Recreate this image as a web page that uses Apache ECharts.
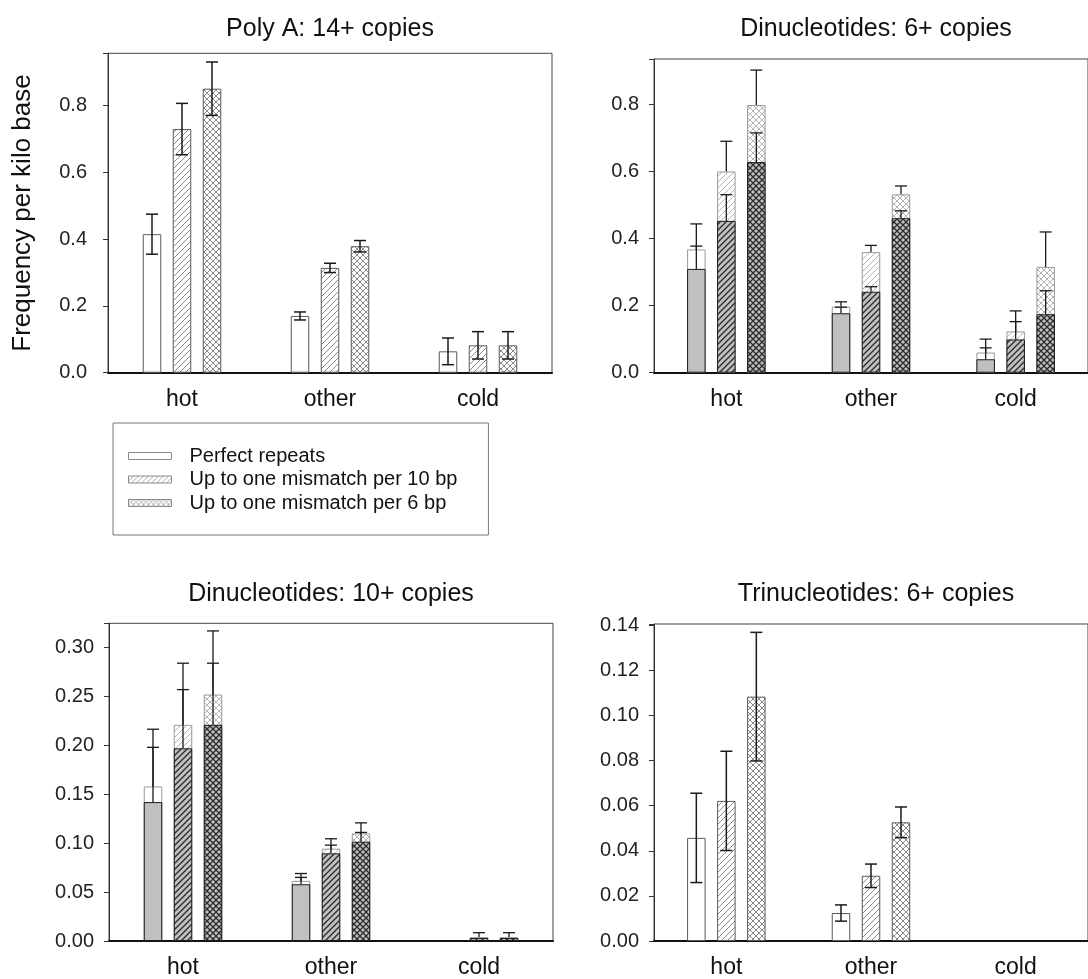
<!DOCTYPE html>
<html><head><meta charset="utf-8">
<script src="https://cdn.jsdelivr.net/npm/echarts@6/dist/echarts.min.js"></script>
<style>html,body{margin:0;padding:0;background:#fff}#c{width:1088px;height:979px}</style>
</head><body><div id="c"></div>
<script>
// ---------- DATA ----------
const categories = ['hot', 'other', 'cold'];
const seriesNames = ['Perfect repeats', 'Up to one mismatch per 10 bp', 'Up to one mismatch per 6 bp'];
const titles = ['Poly A: 14+ copies', 'Dinucleotides: 6+ copies', 'Dinucleotides: 10+ copies', 'Trinucleotides: 6+ copies'];
const yAxisName = 'Frequency per kilo base';

// Panel 1: Poly A 14+ (symmetric error bars)
const polyA_perfect = [0.415, 0.170, 0.064];
const polyA_10bp = [0.730, 0.314, 0.082];
const polyA_6bp = [0.851, 0.379, 0.082];
const polyA_perfect_err = [0.060, 0.012, 0.040];
const polyA_10bp_err = [0.077, 0.014, 0.041];
const polyA_6bp_err = [0.080, 0.017, 0.041];

// Panel 2: Dinucleotides 6+ (totals + grey subset, upward error bars)
const di6_perfect = [0.367, 0.197, 0.060];
const di6_10bp = [0.599, 0.359, 0.123];
const di6_6bp = [0.797, 0.531, 0.315];
const di6_perfect_err = [0.076, 0.014, 0.040];
const di6_10bp_err = [0.090, 0.020, 0.061];
const di6_6bp_err = [0.104, 0.025, 0.104];
const di6_perfect_sub = [0.309, 0.177, 0.040];
const di6_10bp_sub = [0.452, 0.241, 0.099];
const di6_6bp_sub = [0.627, 0.460, 0.174];
const di6_perfect_sub_err = [0.068, 0.018, 0.034];
const di6_10bp_sub_err = [0.078, 0.015, 0.053];
const di6_6bp_sub_err = [0.087, 0.022, 0.070];

// Panel 3: Dinucleotides 10+
const di10_perfect = [0.158, 0.0615, null];
const di10_10bp = [0.221, 0.0944, 0.004];
const di10_6bp = [0.252, 0.110, 0.004];
const di10_perfect_err = [0.0585, 0.0075, null];
const di10_10bp_err = [0.063, 0.0101, 0.0045];
const di10_6bp_err = [0.065, 0.0108, 0.0045];
const di10_perfect_sub = [0.142, 0.058, null];
const di10_10bp_sub = [0.197, 0.0896, 0.003];
const di10_6bp_sub = [0.221, 0.1015, 0.003];
const di10_perfect_sub_err = [0.056, 0.007, null];
const di10_10bp_sub_err = [0.060, 0.0084, null];
const di10_6bp_sub_err = [0.063, 0.0095, null];

// Panel 4: Trinucleotides 6+ (symmetric error bars)
const tri6_perfect = [0.0457, 0.0124, null];
const tri6_10bp = [0.0621, 0.0289, null];
const tri6_6bp = [0.1083, 0.0526, null];
const tri6_perfect_err = [0.0198, 0.0036, null];
const tri6_10bp_err = [0.022, 0.0052, null];
const tri6_6bp_err = [0.0285, 0.0068, null];

// Axis settings
const yMax = [0.957, 0.934, 0.3248, 0.1405];
const yInterval = [0.2, 0.2, 0.05, 0.02];
const yDecimals = [1, 1, 2, 2];

// ---------- STYLE / LAYOUT ----------
const FONT = "'Liberation Sans', Arial, sans-serif";
const grids = [
  {left: 108, top: 53.3, width: 444, height: 319.4},
  {left: 654, top: 59, width: 444, height: 313.7},
  {left: 109, top: 623.3, width: 444, height: 320},
  {left: 654, top: 624, width: 444, height: 318.7}
];
const BAR_W = 18.5, BAR_STEP = 30;

function makePattern(kind, bg, line, lw, size) {
  const c = document.createElement('canvas');
  c.width = size; c.height = size;
  const ctx = c.getContext('2d');
  ctx.fillStyle = bg; ctx.fillRect(0, 0, size, size);
  ctx.strokeStyle = line; ctx.lineWidth = lw;
  ctx.beginPath();
  if (kind === 'fwd' || kind === 'cross') {
    ctx.moveTo(-1, size + 1); ctx.lineTo(size + 1, -1);
    ctx.moveTo(-2, 2); ctx.lineTo(2, -2);
    ctx.moveTo(size - 2, size + 2); ctx.lineTo(size + 2, size - 2);
  }
  if (kind === 'cross') {
    ctx.moveTo(-1, -1); ctx.lineTo(size + 1, size + 1);
    ctx.moveTo(size - 2, -2); ctx.lineTo(size + 2, 2);
    ctx.moveTo(-2, size - 2); ctx.lineTo(2, size + 2);
  }
  ctx.stroke();
  return {image: c, repeat: 'repeat'};
}

const plainStyles = [
  {color: '#ffffff', borderColor: '#5a5a5a', borderWidth: 1},
  {color: makePattern('fwd', '#ffffff', '#8a8a8a', 1, 6), borderColor: '#5a5a5a', borderWidth: 1},
  {color: makePattern('cross', '#ffffff', '#8a8a8a', 1, 6), borderColor: '#5a5a5a', borderWidth: 1}
];
const lightStyles = [
  {color: '#ffffff', borderColor: '#9a9a9a', borderWidth: 1},
  {color: makePattern('fwd', '#ffffff', '#b5b5b5', 1, 6), borderColor: '#9a9a9a', borderWidth: 1},
  {color: makePattern('cross', '#ffffff', '#b5b5b5', 1, 6), borderColor: '#9a9a9a', borderWidth: 1}
];
const legendStyles = [
  {color: '#ffffff', borderColor: '#8a8a8a', borderWidth: 1},
  {color: makePattern('fwd', '#ffffff', '#a8a8a8', 1, 5), borderColor: '#8a8a8a', borderWidth: 1},
  {color: makePattern('cross', '#ffffff', '#a8a8a8', 1, 5), borderColor: '#8a8a8a', borderWidth: 1}
];
const subStyles = [
  {color: '#c0c0c0', borderColor: '#1a1a1a', borderWidth: 1},
  {color: makePattern('fwd', '#c0c0c0', '#2a2a2a', 1.3, 6), borderColor: '#1a1a1a', borderWidth: 1},
  {color: makePattern('cross', '#c0c0c0', '#2a2a2a', 1.3, 6), borderColor: '#1a1a1a', borderWidth: 1}
];

function errSeries(gridIdx, xIdx, barIdx, vals, errs, symmetric, color, lw) {
  const data = categories.map((c, i) => [i, vals[i], errs[i]]);
  const offset = (barIdx - 1) * BAR_STEP;
  return {
    type: 'custom', name: 'err', xAxisIndex: xIdx, yAxisIndex: gridIdx, z: 10,
    silent: true, clip: false,
    data: data,
    renderItem: function (params, api) {
      const cat = api.value(0), v = api.value(1), e = api.value(2);
      if (v == null || isNaN(v) || e == null || isNaN(e) || !(e > 0)) return null;
      const base = api.coord([cat, v]);
      const x = base[0] + offset;
      const yTop = api.coord([cat, v + e])[1];
      const yBot = symmetric ? api.coord([cat, v - e])[1] : base[1];
      const st = {stroke: color, lineWidth: lw};
      const children = [
        {type: 'line', shape: {x1: x, y1: yBot, x2: x, y2: yTop}, style: st},
        {type: 'line', shape: {x1: x - 6, y1: yTop, x2: x + 6, y2: yTop}, style: st}
      ];
      if (symmetric) children.push({type: 'line', shape: {x1: x - 6, y1: yBot, x2: x + 6, y2: yBot}, style: st});
      return {type: 'group', children: children};
    }
  };
}

function barSeries(name, xIdx, yIdx, vals, style, z) {
  return {
    type: 'bar', name: name, xAxisIndex: xIdx, yAxisIndex: yIdx,
    data: vals.map(v => v == null ? '-' : v),
    barWidth: BAR_W, barGap: ((BAR_STEP - BAR_W) / BAR_W * 100) + '%',
    itemStyle: style, z: z, silent: true
  };
}

const xAxes = [];
const yAxes = [];
const series = [];
for (let g = 0; g < 4; g++) {
  xAxes.push({
    type: 'category', gridIndex: g, data: categories,
    axisLine: {lineStyle: {color: '#111', width: 2}}, axisTick: {show: false},
    axisLabel: {fontSize: 23, color: '#111', fontFamily: FONT, margin: 15}
  });
  yAxes.push({
    type: 'value', gridIndex: g, min: 0, max: yMax[g], interval: yInterval[g],
    name: g === 0 ? yAxisName : '', nameLocation: 'middle', nameGap: 72, nameRotate: 90,
    nameTextStyle: {fontSize: 26, color: '#111', fontFamily: FONT},
    axisLine: {show: true, lineStyle: {color: '#333', width: 1}},
    axisTick: {show: true, length: 5, lineStyle: {color: '#333'}},
    splitLine: {show: false},
    axisLabel: {
      fontSize: 20, color: '#222', fontFamily: FONT, margin: g === 0 ? 21 : 15,
      formatter: (function (iv, dec) {
        return function (v) { const r = v / iv; return Math.abs(r - Math.round(r)) < 1e-6 ? v.toFixed(dec) : ''; };
      })(yInterval[g], yDecimals[g])
    }
  });
}
xAxes.push({type: 'category', gridIndex: 1, data: categories, show: false});
xAxes.push({type: 'category', gridIndex: 2, data: categories, show: false});

// Panel 1
[[polyA_perfect, polyA_perfect_err], [polyA_10bp, polyA_10bp_err], [polyA_6bp, polyA_6bp_err]].forEach((d, i) => {
  series.push(barSeries(seriesNames[i], 0, 0, d[0], plainStyles[i], 2));
  series.push(errSeries(0, 0, i, d[0], d[1], true, '#1a1a1a', 1.5));
});
// Panel 4
[[tri6_perfect, tri6_perfect_err], [tri6_10bp, tri6_10bp_err], [tri6_6bp, tri6_6bp_err]].forEach((d, i) => {
  series.push(barSeries(seriesNames[i], 3, 3, d[0], plainStyles[i], 2));
  series.push(errSeries(3, 3, i, d[0], d[1], true, '#1a1a1a', 1.5));
});
// Panel 2
[[di6_perfect, di6_perfect_err, di6_perfect_sub, di6_perfect_sub_err],
 [di6_10bp, di6_10bp_err, di6_10bp_sub, di6_10bp_sub_err],
 [di6_6bp, di6_6bp_err, di6_6bp_sub, di6_6bp_sub_err]].forEach((d, i) => {
  series.push(barSeries(seriesNames[i], 1, 1, d[0], lightStyles[i], 2));
  series.push(barSeries(seriesNames[i], 4, 1, d[2], subStyles[i], 3));
  series.push(errSeries(1, 1, i, d[0], d[1], false, '#1a1a1a', 1.3));
  series.push(errSeries(1, 4, i, d[2], d[3], false, '#1a1a1a', 1.3));
});
// Panel 3
[[di10_perfect, di10_perfect_err, di10_perfect_sub, di10_perfect_sub_err],
 [di10_10bp, di10_10bp_err, di10_10bp_sub, di10_10bp_sub_err],
 [di10_6bp, di10_6bp_err, di10_6bp_sub, di10_6bp_sub_err]].forEach((d, i) => {
  series.push(barSeries(seriesNames[i], 2, 2, d[0], lightStyles[i], 2));
  series.push(barSeries(seriesNames[i], 5, 2, d[2], subStyles[i], 3));
  series.push(errSeries(2, 2, i, d[0], d[1], false, '#1a1a1a', 1.3));
  series.push(errSeries(2, 5, i, d[2], d[3], false, '#1a1a1a', 1.3));
});

const titleCenters = [330, 876, 331, 876];
const titleTops = [17, 17, 582, 582];

const option = {
  animation: false,
  backgroundColor: '#fff',
  textStyle: {fontFamily: FONT},
  title: titles.map((t, i) => ({
    text: t, left: titleCenters[i], top: titleTops[i], textAlign: 'center', padding: 0,
    textStyle: {fontSize: 25, fontWeight: 'normal', color: '#111', fontFamily: FONT}
  })),
  legend: {
    data: seriesNames.map((n, i) => ({name: n, itemStyle: legendStyles[i]})),
    orient: 'vertical', left: 113, top: 423,
    padding: [23, 31, 22, 15], itemWidth: 43, itemHeight: 7, itemGap: 3.5,
    selectedMode: false, icon: 'rect',
    backgroundColor: '#fff', borderColor: '#777', borderWidth: 1,
    textStyle: {fontSize: 20, color: '#111', fontFamily: FONT, padding: [0, 0, 0, 13]}
  },
  grid: grids.map(g => Object.assign({show: true, borderColor: '#444', borderWidth: 1, backgroundColor: 'transparent', containLabel: false}, g)),
  xAxis: xAxes,
  yAxis: yAxes,
  series: series
};

const chart = echarts.init(document.getElementById('c'), null, {renderer: 'canvas'});
chart.setOption(option);
</script>
</body></html>
